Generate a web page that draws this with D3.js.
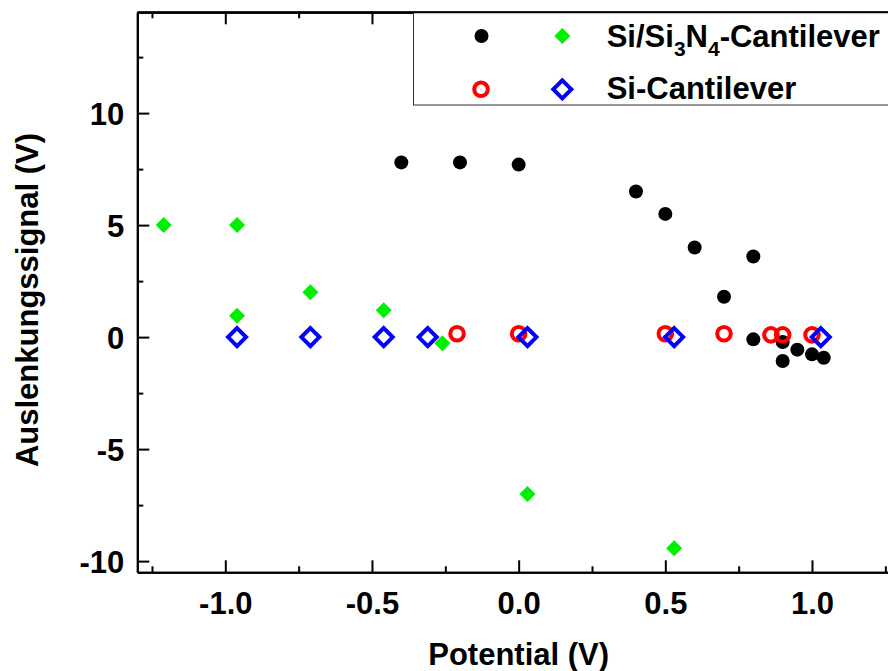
<!DOCTYPE html>
<html>
<head>
<meta charset="utf-8">
<script src="https://cdn.jsdelivr.net/npm/d3@7"></script>
<style>
  html, body { margin: 0; padding: 0; background: #fff; }
  svg { display: block; }
  text { font-family: "Liberation Sans", Arial, sans-serif; font-weight: bold; fill: #000; }
</style>
</head>
<body>
<svg id="chart" width="888" height="671"></svg>
<script>
// Si/Si3N4 cantilever, run 1 (black dots)
const siNitrideA_x = [-0.40, -0.20, 0.00, 0.40, 0.50, 0.60, 0.70, 0.80, 0.80, 0.90, 0.90, 0.95, 1.00, 1.04];
const siNitrideA_y = [7.8, 7.8, 7.7, 6.5, 5.5, 4.0, 1.8, 3.6, -0.10, -0.22, -1.07, -0.56, -0.77, -0.92];

// Si/Si3N4 cantilever, run 2 (green diamonds)
const siNitrideB_x = [-1.21, -0.96, -0.96, -0.71, -0.46, -0.26, 0.03, 0.53];
const siNitrideB_y = [5.0, 5.0, 0.95, 2.0, 1.2, -0.28, -7.0, -9.43];

// Si cantilever, run 1 (red circles)
const siA_x = [-0.21, 0.00, 0.50, 0.70, 0.86, 0.90, 1.00];
const siA_y = [0.15, 0.15, 0.15, 0.15, 0.10, 0.10, 0.10];

// Si cantilever, run 2 (blue diamonds)
const siB_x = [-0.96, -0.71, -0.46, -0.31, 0.03, 0.53, 1.03];
const siB_y = [0.0, 0.0, 0.0, 0.0, 0.0, 0.0, 0.0];

const xTicks = [-1.0, -0.5, 0.0, 0.5, 1.0];
const xMinorTicks = [-1.25, -0.75, -0.25, 0.25, 0.75, 1.25];
const yTicks = [-10, -5, 0, 5, 10];
const yMinorTicks = [-7.5, -2.5, 2.5, 7.5, 12.5];

const xTitle = "Potential (V)";
const yTitle = "Auslenkungssignal (V)";

const svg = d3.select("#chart");

const x = d3.scaleLinear().domain([-1.3, 1.3]).range([137.3, 900]);
const y = d3.scaleLinear().domain([-10.5, 14.5]).range([572.3, 12.3]);

// plain hyphen for negative numbers
const fmtX = d => d3.format(".1f")(d).replace("\u2212", "-");
const fmtY = d => d3.format("d")(d).replace("\u2212", "-");

const L = x.range()[0], R = x.range()[1], B = y.range()[0], T = y.range()[1];
const FS = 31;

// frame axes, ticks pointing inward
function drawAxis(axisGen, tx, ty, cls) {
  const g = svg.append("g").attr("class", cls).attr("transform", `translate(${tx},${ty})`).call(axisGen);
  g.selectAll("path").attr("stroke", "#000").attr("stroke-width", 2).attr("fill", "none");
  g.selectAll("line").attr("stroke", "#000").attr("stroke-width", 2);
  return g;
}

// bottom
const xb = drawAxis(d3.axisBottom(x).tickValues(xTicks).tickSize(-12).tickSizeOuter(0).tickPadding(20).tickFormat(fmtX), 0, B, "x-axis");
xb.selectAll("text").attr("font-size", FS).attr("dy", "0.71em");
drawAxis(d3.axisBottom(x).tickValues(xMinorTicks).tickSize(-6).tickSizeOuter(0).tickFormat(""), 0, B, "x-minor");
// top
drawAxis(d3.axisTop(x).tickValues(xTicks).tickSize(-12).tickSizeOuter(0).tickFormat(""), 0, T, "x-top");
drawAxis(d3.axisTop(x).tickValues(xMinorTicks).tickSize(-6).tickSizeOuter(0).tickFormat(""), 0, T, "x-top-minor");
// left
const yl = drawAxis(d3.axisLeft(y).tickValues(yTicks).tickSize(-12).tickSizeOuter(0).tickPadding(13).tickFormat(fmtY), L, 0, "y-axis");
yl.selectAll("text").attr("font-size", FS).attr("dy", "0.36em");
drawAxis(d3.axisLeft(y).tickValues(yMinorTicks).tickSize(-6).tickSizeOuter(0).tickFormat(""), L, 0, "y-minor");
// right
drawAxis(d3.axisRight(y).tickValues(yTicks).tickSize(-12).tickSizeOuter(0).tickFormat(""), R, 0, "y-right");
drawAxis(d3.axisRight(y).tickValues(yMinorTicks).tickSize(-6).tickSizeOuter(0).tickFormat(""), R, 0, "y-right-minor");

// axis titles
svg.append("text").attr("x", x(0)).attr("y", 665).attr("text-anchor", "middle").attr("font-size", FS).text(xTitle);
svg.append("text").attr("transform", `translate(38,300) rotate(-90)`).attr("text-anchor", "middle").attr("font-size", FS).text(yTitle);

const diamond = (r) => `M0,${-r}L${r},0L0,${r}L${-r},0Z`;

const plot = svg.append("g");

// black dots
plot.selectAll(".ptA").data(d3.zip(siNitrideA_x, siNitrideA_y)).join("circle")
  .attr("cx", d => x(d[0])).attr("cy", d => y(d[1])).attr("r", 7).attr("fill", "#000");

// green diamonds
plot.selectAll(".ptB").data(d3.zip(siNitrideB_x, siNitrideB_y)).join("path")
  .attr("transform", d => `translate(${x(d[0])},${y(d[1])})`).attr("d", diamond(8)).attr("fill", "#00ee00");

// red rings
plot.selectAll(".ptC").data(d3.zip(siA_x, siA_y)).join("circle")
  .attr("cx", d => x(d[0])).attr("cy", d => y(d[1])).attr("r", 6.8)
  .attr("fill", "none").attr("stroke", "#ff0000").attr("stroke-width", 4);

// blue open diamonds
plot.selectAll(".ptD").data(d3.zip(siB_x, siB_y)).join("path")
  .attr("transform", d => `translate(${x(d[0])},${y(d[1])})`).attr("d", diamond(9))
  .attr("fill", "none").attr("stroke", "#0000ff").attr("stroke-width", 4).attr("stroke-linejoin", "miter");

// legend
const lg = svg.append("g");
lg.append("rect").attr("x", 413.5).attr("y", T).attr("width", R - 413.5).attr("height", 105 - T)
  .attr("fill", "#fff").attr("stroke", "#333").attr("stroke-width", 1);
lg.append("circle").attr("cx", 481.5).attr("cy", 36).attr("r", 7).attr("fill", "#000");
lg.append("path").attr("transform", "translate(562.3,36)").attr("d", diamond(8)).attr("fill", "#00ee00");
lg.append("circle").attr("cx", 481).attr("cy", 89.3).attr("r", 6.8).attr("fill", "none").attr("stroke", "#ff0000").attr("stroke-width", 4);
lg.append("path").attr("transform", "translate(562.3,89.3)").attr("d", diamond(9)).attr("fill", "none").attr("stroke", "#0000ff").attr("stroke-width", 4);

const t1 = lg.append("text").attr("x", 606.7).attr("y", 47).attr("font-size", FS);
t1.append("tspan").text("Si/Si");
t1.append("tspan").attr("font-size", 21).attr("dy", 9).text("3");
t1.append("tspan").attr("dy", -9).text("N");
t1.append("tspan").attr("font-size", 21).attr("dy", 9).text("4");
t1.append("tspan").attr("dy", -9).text("-Cantilever");
lg.append("text").attr("x", 606.7).attr("y", 99).attr("font-size", FS).text("Si-Cantilever");

// redraw top frame line above the legend border
svg.append("line").attr("x1", L).attr("x2", R).attr("y1", T).attr("y2", T).attr("stroke", "#000").attr("stroke-width", 2);
</script>
</body>
</html>
